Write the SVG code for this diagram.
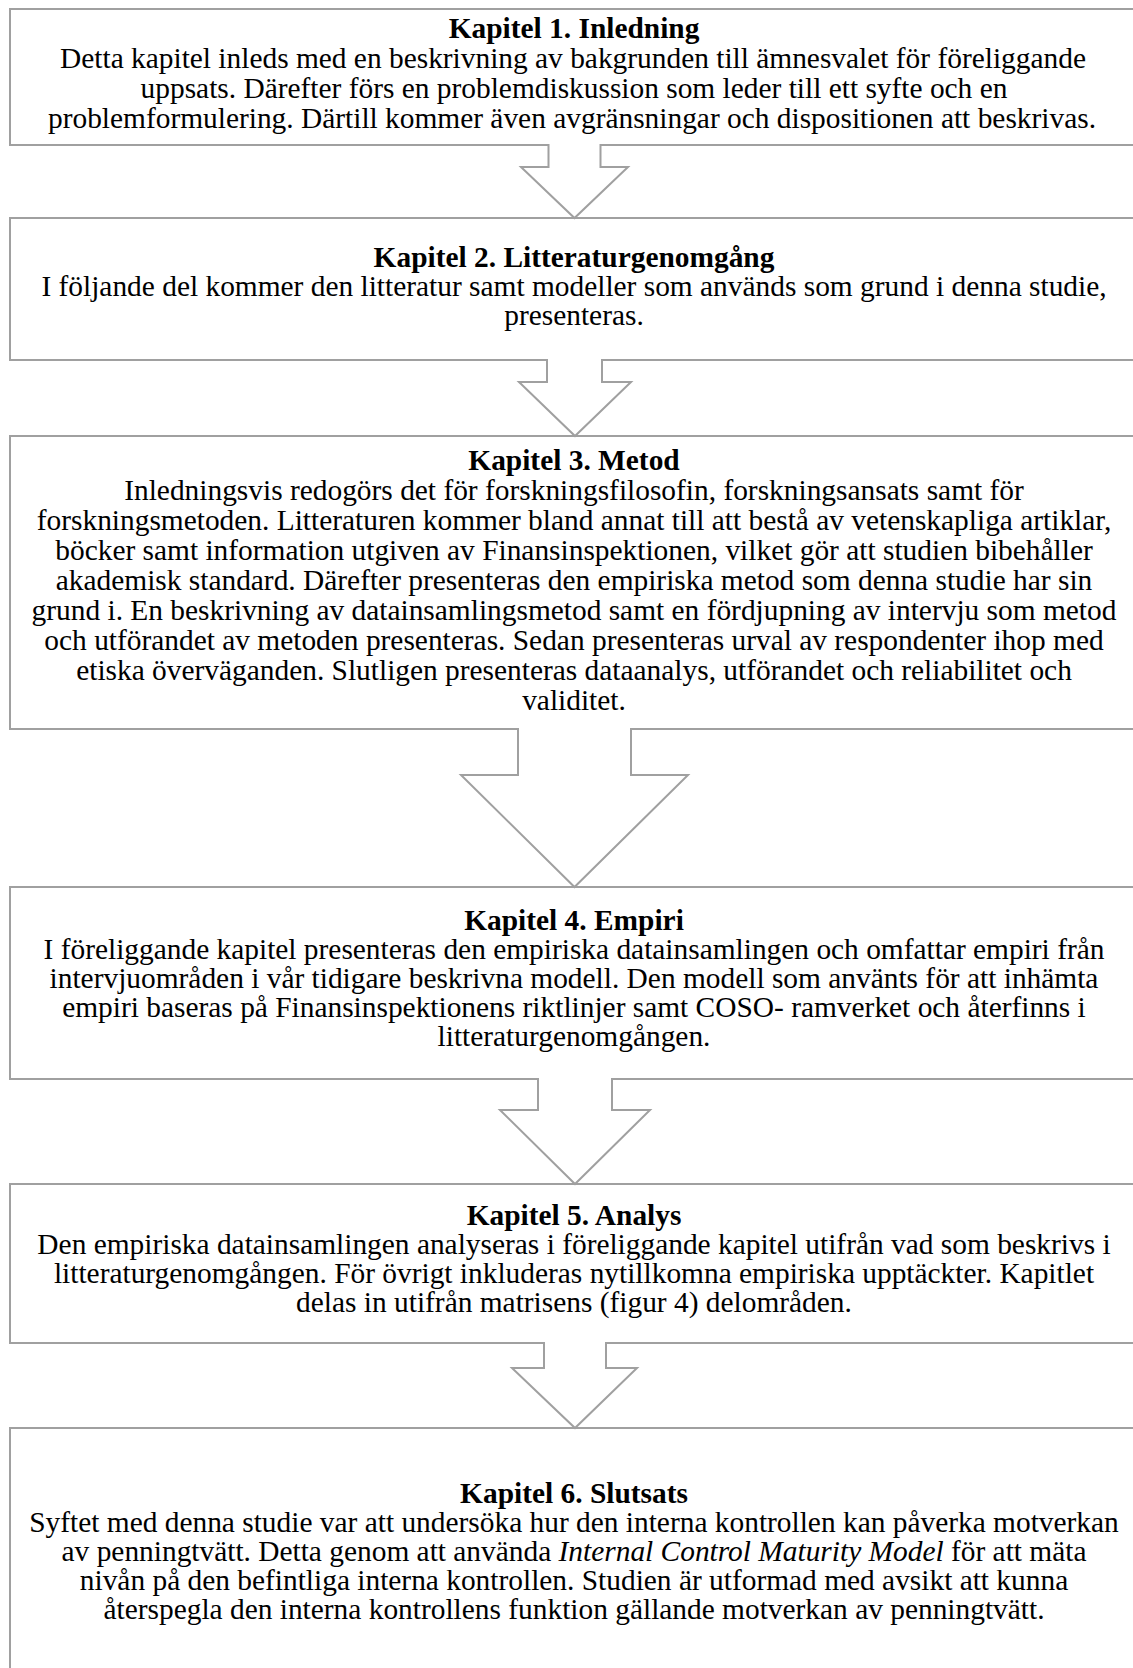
<svg xmlns="http://www.w3.org/2000/svg" width="1133" height="1668" viewBox="0 0 1133 1668">
<style>
.box{fill:#ffffff;stroke:#a0a0a0;stroke-width:2}
.arr{fill:#ffffff;stroke:#a0a0a0;stroke-width:2;stroke-linejoin:miter}
text{font-family:"Liberation Serif","Times New Roman",serif;font-size:29.4px;fill:#000000;text-anchor:middle}
.t{font-weight:bold}
</style>
<rect x="0" y="0" width="1133" height="1668" fill="#ffffff"/>
<g id="kap1">
<rect class="box" x="10" y="9" width="1140" height="136"/>
<text x="574" y="37.5" class="t">Kapitel 1. Inledning</text>
<text x="573" y="68">Detta kapitel inleds med en beskrivning av bakgrunden till ämnesvalet för föreliggande</text>
<text x="574" y="98">uppsats. Därefter förs en problemdiskussion som leder till ett syfte och en</text>
<text x="572" y="128">problemformulering. Därtill kommer även avgränsningar och dispositionen att beskrivas.</text>
</g>
<g id="kap2">
<rect class="box" x="10" y="218" width="1140" height="142"/>
<text x="574" y="267" class="t">Kapitel 2. Litteraturgenomgång</text>
<text x="574" y="296">I följande del kommer den litteratur samt modeller som används som grund i denna studie,</text>
<text x="574" y="325">presenteras.</text>
</g>
<g id="kap3">
<rect class="box" x="10" y="436" width="1140" height="293"/>
<text x="574" y="470" class="t">Kapitel 3. Metod</text>
<text x="574" y="500">Inledningsvis redogörs det för forskningsfilosofin, forskningsansats samt för</text>
<text x="574" y="530">forskningsmetoden. Litteraturen kommer bland annat till att bestå av vetenskapliga artiklar,</text>
<text x="574" y="560">böcker samt information utgiven av Finansinspektionen, vilket gör att studien bibehåller</text>
<text x="574" y="590">akademisk standard. Därefter presenteras den empiriska metod som denna studie har sin</text>
<text x="574" y="620">grund i. En beskrivning av datainsamlingsmetod samt en fördjupning av intervju som metod</text>
<text x="574" y="650">och utförandet av metoden presenteras. Sedan presenteras urval av respondenter ihop med</text>
<text x="574" y="680">etiska överväganden. Slutligen presenteras dataanalys, utförandet och reliabilitet och</text>
<text x="574" y="710">validitet.</text>
</g>
<g id="kap4">
<rect class="box" x="10" y="887" width="1140" height="192"/>
<text x="574" y="930" class="t">Kapitel 4. Empiri</text>
<text x="574" y="959">I föreliggande kapitel presenteras den empiriska datainsamlingen och omfattar empiri från</text>
<text x="574" y="988">intervjuområden i vår tidigare beskrivna modell. Den modell som använts för att inhämta</text>
<text x="574" y="1017">empiri baseras på Finansinspektionens riktlinjer samt COSO- ramverket och återfinns i</text>
<text x="574" y="1046">litteraturgenomgången.</text>
</g>
<g id="kap5">
<rect class="box" x="10" y="1184" width="1140" height="159"/>
<text x="574" y="1224.5" class="t">Kapitel 5. Analys</text>
<text x="574" y="1253.5">Den empiriska datainsamlingen analyseras i föreliggande kapitel utifrån vad som beskrivs i</text>
<text x="574" y="1282.5">litteraturgenomgången. För övrigt inkluderas nytillkomna empiriska upptäckter. Kapitlet</text>
<text x="574" y="1311.5">delas in utifrån matrisens (figur 4) delområden.</text>
</g>
<g id="kap6">
<rect class="box" x="10" y="1428" width="1140" height="260"/>
<text x="574" y="1503" class="t">Kapitel 6. Slutsats</text>
<text x="574" y="1532">Syftet med denna studie var att undersöka hur den interna kontrollen kan påverka motverkan</text>
<text x="574" y="1561">av penningtvätt. Detta genom att använda <tspan font-style="italic">Internal Control Maturity Model</tspan> för att mäta</text>
<text x="574" y="1590">nivån på den befintliga interna kontrollen. Studien är utformad med avsikt att kunna</text>
<text x="574" y="1619">återspegla den interna kontrollens funktion gällande motverkan av penningtvätt.</text>
</g>
<g id="connectors">
<path class="arr" d="M548.5,144 V167 H521 L574.5,218 L628,167 H600.5 V144"/>
<path class="arr" d="M547,359 V382 H519 L575,436 L631,382 H602 V359"/>
<path class="arr" d="M518,728 V775 H461 L574.5,887 L688,775 H631 V728"/>
<path class="arr" d="M538,1078 V1110 H500 L575,1184 L650,1110 H612 V1078"/>
<path class="arr" d="M544,1342 V1368 H512 L575,1428 L637,1368 H606 V1342"/>
</g>
</svg>
